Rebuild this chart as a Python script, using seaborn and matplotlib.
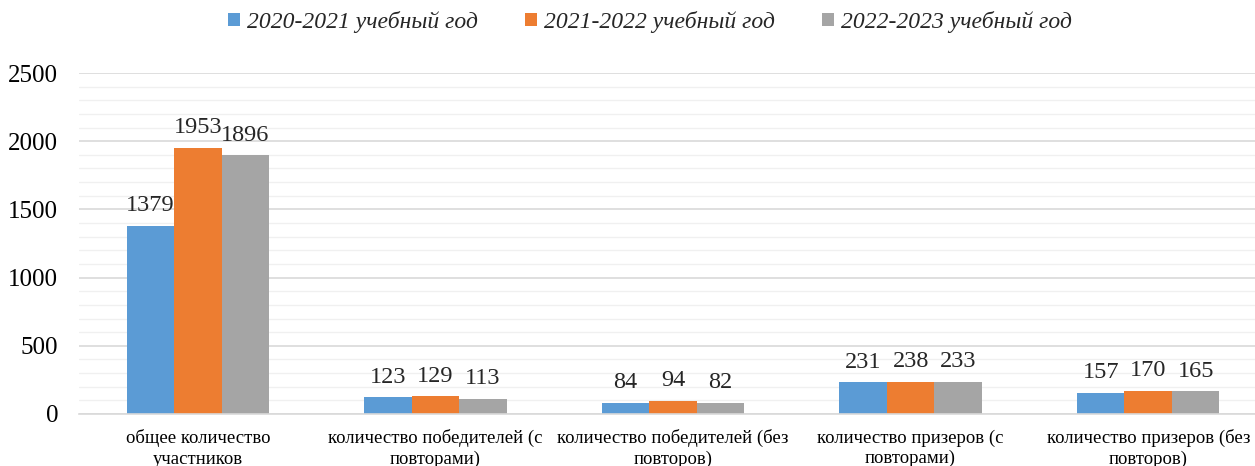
import matplotlib
matplotlib.use("Agg")
import matplotlib.pyplot as plt
import seaborn as sns
import pandas as pd
from matplotlib.ticker import MultipleLocator

categories = ["общее количество\nучастников",
              "количество победителей (с\nповторами)",
              "количество победителей (без\nповторов)",
              "количество призеров (с\nповторами)",
              "количество призеров (без\nповторов)"]
series_names = ["2020-2021 учебный год", "2021-2022 учебный год", "2022-2023 учебный год"]
values_2021 = [1379, 123, 84, 231, 157]
values_2022 = [1953, 129, 94, 238, 170]
values_2023 = [1896, 113, 82, 233, 165]
colors = ["#5B9BD5", "#ED7D31", "#A5A5A5"]

rows = []
for name, vals in zip(series_names, [values_2021, values_2022, values_2023]):
    for c, v in zip(categories, vals):
        rows.append({"cat": c, "series": name, "value": v})
df = pd.DataFrame(rows)

sns.set_theme(style="white")
plt.rcParams["font.family"] = ["Liberation Serif", "DejaVu Serif"]

fig = plt.figure(figsize=(12.55, 4.66), dpi=100)
ax = fig.add_axes([79/1255, (466-414)/466, (1267-79)/1255, (414-73)/466])

sns.barplot(data=df, x="cat", y="value", hue="series", palette=colors,
            width=0.6, ax=ax, saturation=1, legend=True, linewidth=0)

ax.set_ylim(0, 2500)
ax.set_xlim(-0.5, 4.5)
ax.yaxis.set_major_locator(MultipleLocator(500))
ax.yaxis.set_minor_locator(MultipleLocator(100))
ax.grid(axis="y", which="major", color="#D9D9D9", linewidth=1.2, zorder=0)
ax.grid(axis="y", which="minor", color="#F0F0F0", linewidth=1.0, zorder=0)
ax.set_axisbelow(True)
for s in ["left", "right", "top"]:
    ax.spines[s].set_visible(False)
ax.spines["bottom"].set_color("#D9D9D9")
ax.spines["bottom"].set_linewidth(1.2)
ax.tick_params(axis="y", which="both", length=0, labelsize=18, pad=15, colors="black")
ax.tick_params(axis="x", length=0, labelsize=13.5, pad=11, colors="black")
ax.set_xlabel("")
ax.set_ylabel("")
for lbl in ax.get_xticklabels():
    lbl.set_linespacing(1.25)

for cont in ax.containers:
    ax.bar_label(cont, fmt="%d", padding=7, fontsize=17.5)

handles, labels = ax.get_legend_handles_labels()
ax.legend(handles, labels, loc="center", bbox_to_anchor=(650/1255, 1 - 22/466),
          bbox_transform=fig.transFigure, ncol=3, frameon=False,
          prop={"family": ["Liberation Serif"], "style": "italic", "size": 17},
          handlelength=0.5, handleheight=0.5, handletextpad=0.3, columnspacing=2.0)

fig.savefig("out.png", dpi=100)
